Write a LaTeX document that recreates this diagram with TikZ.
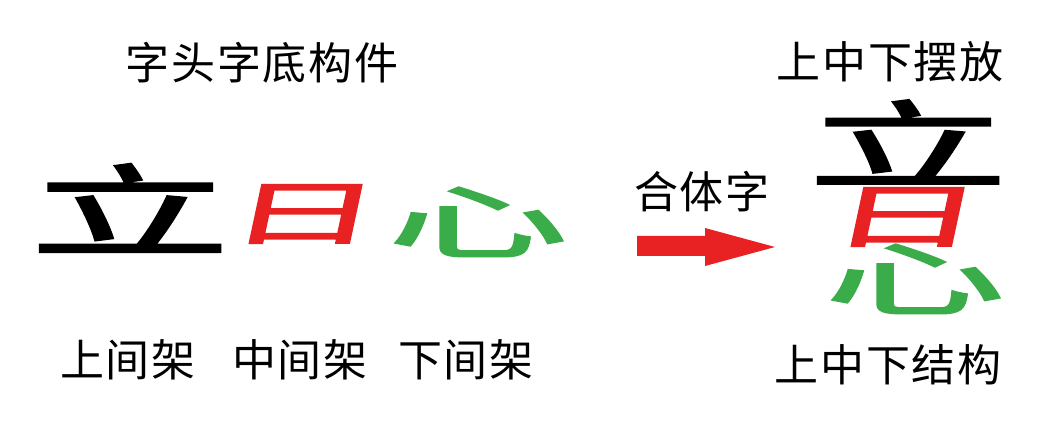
\documentclass[tikz,border=0pt]{standalone}
\usepackage{fontspec}
\usepackage{xcolor}
\usepackage{tikz}
\usetikzlibrary{positioning}
\newfontfamily\cjk[LetterSpace=4]{Noto Sans CJK SC}
\newfontfamily\cjkbold[FakeBold=2]{Noto Sans CJK SC}
\definecolor{partred}{RGB}{232,34,34}
\definecolor{partgreen}{RGB}{58,172,74}

\begin{document}
\begin{tikzpicture}[x=1pt, y=-1pt,
                    label/.style={font=\cjk\fontsize{44}{48}\selectfont, inner sep=0pt},
                    part/.style={font=\cjkbold\fontsize{100}{100}\selectfont, inner sep=0pt},
                    redpart/.style={part, text=partred},
                    greenpart/.style={part, text=partgreen},
                   ]

\useasboundingbox[fill=white] (0,0) rectangle (1050,422);

% labels
\node[label] (parts) at (262,63) {字头字底构件};
\node[label] (placing) at (890,62) {上中下摆放};
\node[label] (compound) at (702,192) {合体字};
\node[label] (upper) at (128,360) {上间架};
\node[label] (middle) at (300,360) {中间架};
\node[label] (lower) at (466,360) {下间架};
\node[label] (structure) at (888,365) {上中下结构};

% three parts
\node[part, xscale=2.0, yscale=1.0] (li) at (130,208) {立};
\node[redpart, xscale=1.5, yscale=0.7, xslant=0.1] (ri) at (305,214) {日};
\node[greenpart, xscale=1.8, yscale=0.8] (xin) at (478,222) {心};

% arrow
\fill[partred] (637,236) -- (705,236) -- (705,228) -- (775,247)
               -- (705,266) -- (705,256) -- (637,256) -- cycle;

% the whole character
\node[part, xscale=2.0, yscale=0.95] (yili) at (908,142) {立};
\node[redpart, xscale=1.5, yscale=0.7, xslant=0.1] (yiri) at (907,217) {日};
\node[greenpart, xscale=1.8, yscale=0.8] (yixin) at (915,279) {心};

\end{tikzpicture}
\end{document}
